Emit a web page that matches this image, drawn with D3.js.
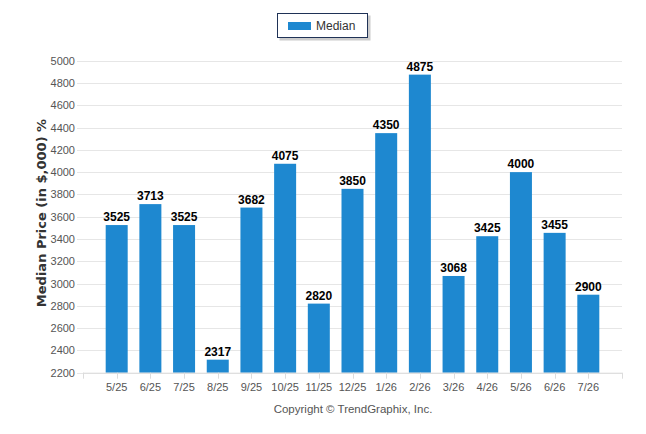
<!DOCTYPE html>
<html>
<head>
<meta charset="utf-8">
<script src="https://cdn.jsdelivr.net/npm/d3@7"></script>
<style>
  body { margin: 0; background: #fff; }
  svg { display: block; font-family: "Liberation Sans", Arial, sans-serif; }
</style>
</head>
<body>
<svg id="chart" width="646" height="434"></svg>
<script>
const months = ['5/25', '6/25', '7/25', '8/25', '9/25', '10/25', '11/25', '12/25', '1/26', '2/26', '3/26', '4/26', '5/26', '6/26', '7/26'];
const medianValues = [3525, 3713, 3525, 2317, 3682, 4075, 2820, 3850, 4350, 4875, 3068, 3425, 4000, 3455, 2900];
const yTicks = [2200, 2400, 2600, 2800, 3000, 3200, 3400, 3600, 3800, 4000, 4200, 4400, 4600, 4800, 5000];

const svg = d3.select('#chart');
const plotLeft = 83, plotRight = 622, plotTop = 60.7, plotBottom = 372.7;

const x = d3.scalePoint().domain(months).range([plotLeft, plotRight]).padding(1);
const y = d3.scaleLinear().domain([2200, 5000]).range([plotBottom, plotTop]);
const barWidth = 22;

// grid lines
svg.append('g').selectAll('line')
    .data(yTicks)
    .join('line')
    .attr('x1', plotLeft - 6)
    .attr('x2', plotRight)
    .attr('y1', d => Math.round(y(d)) + 0.5)
    .attr('y2', d => Math.round(y(d)) + 0.5)
    .attr('stroke', '#e6e6e6')
    .attr('stroke-width', 1);

// y labels
svg.append('g').selectAll('text')
    .data(yTicks)
    .join('text')
    .attr('x', 75)
    .attr('y', d => y(d) + 4)
    .attr('text-anchor', 'end')
    .attr('font-size', 11)
    .attr('fill', '#555')
    .text(d => d);

// bars
svg.append('g').selectAll('rect')
    .data(medianValues)
    .join('rect')
    .attr('x', (d, i) => x(months[i]) - barWidth / 2)
    .attr('y', d => y(d))
    .attr('width', barWidth)
    .attr('height', d => y(2200) - y(d))
    .attr('fill', '#1e88d0');

// value labels
svg.append('g').selectAll('text')
    .data(medianValues)
    .join('text')
    .attr('x', (d, i) => x(months[i]))
    .attr('y', d => y(d) - 4)
    .attr('text-anchor', 'middle')
    .attr('font-size', 12)
    .attr('font-weight', 'bold')
    .attr('fill', '#000')
    .text(d => d);

// x axis
const xAxis = svg.append('g');
xAxis.append('line')
    .attr('x1', plotLeft).attr('x2', plotRight)
    .attr('y1', plotBottom + 0.5).attr('y2', plotBottom + 0.5)
    .attr('stroke', '#dcdcdc');
const tickPos = [plotLeft].concat(months.map(m => x(m))).concat([plotRight]);
xAxis.selectAll('line.tick')
    .data(tickPos)
    .join('line')
    .attr('class', 'tick')
    .attr('x1', d => Math.round(d) + 0.5)
    .attr('x2', d => Math.round(d) + 0.5)
    .attr('y1', plotBottom)
    .attr('y2', plotBottom + 6)
    .attr('stroke', '#dcdcdc');
xAxis.selectAll('text')
    .data(months)
    .join('text')
    .attr('x', d => x(d))
    .attr('y', 391)
    .attr('text-anchor', 'middle')
    .attr('font-size', 11)
    .attr('fill', '#555')
    .text(d => d);

// y axis title
svg.append('text')
    .attr('transform', 'translate(46,213) rotate(-90)')
    .attr('text-anchor', 'middle')
    .attr('font-family', '"DejaVu Sans", sans-serif')
    .attr('font-size', 13)
    .attr('font-weight', 'bold')
    .attr('fill', '#333')
    .text('Median Price (in $,000) %');

// copyright
svg.append('text')
    .attr('x', 353)
    .attr('y', 413)
    .attr('text-anchor', 'middle')
    .attr('font-size', 11.5)
    .attr('fill', '#555')
    .text('Copyright © TrendGraphix, Inc.');

// legend
const legend = svg.append('g');
legend.append('rect')
    .attr('x', 279.5).attr('y', 15.5)
    .attr('width', 91).attr('height', 25)
    .attr('fill', '#aaa').attr('opacity', 0.6);
legend.append('rect')
    .attr('x', 277.5).attr('y', 13.5)
    .attr('width', 90).attr('height', 24)
    .attr('fill', '#fff')
    .attr('stroke', '#1f3256')
    .attr('stroke-width', 1);
legend.append('rect')
    .attr('x', 288).attr('y', 22)
    .attr('width', 23).attr('height', 8)
    .attr('fill', '#1e88d0');
legend.append('text')
    .attr('x', 316).attr('y', 30)
    .attr('font-size', 12)
    .attr('fill', '#333')
    .text('Median');
</script>
</body>
</html>
